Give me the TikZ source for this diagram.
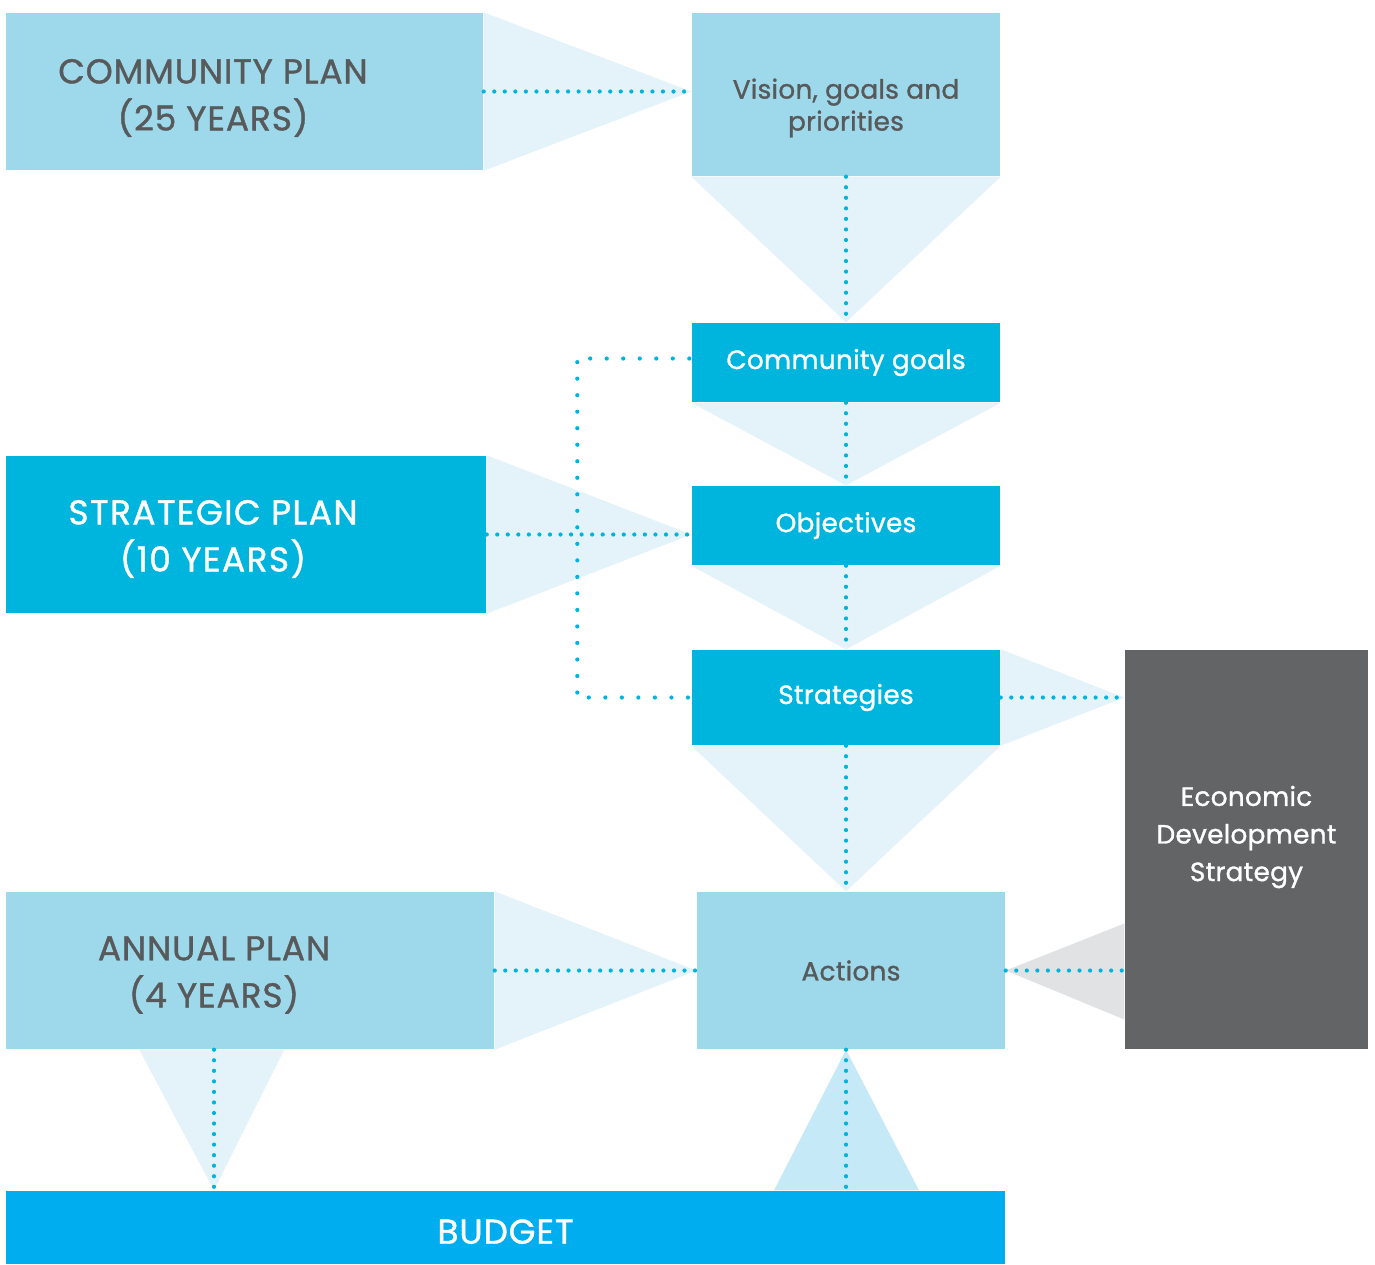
\documentclass[tikz,border=0pt]{standalone}
\usepackage{fontspec}
\setmainfont{Poppins}[FakeBold=1.1]
\usetikzlibrary{calc}
\definecolor{planblue}{HTML}{9DD9EA}
\definecolor{stepblue}{HTML}{00B5DD}
\definecolor{budgetblue}{HTML}{00AEEF}
\definecolor{palefunnel}{HTML}{E3F3F9}
\definecolor{budgetfunnel}{HTML}{C6E9F8}
\definecolor{greyfunnel}{HTML}{E1E2E4}
\definecolor{edsgrey}{HTML}{636466}
\definecolor{textgrey}{HTML}{58595B}
\definecolor{dotblue}{HTML}{00B5DD}
\begin{document}
\begin{tikzpicture}[
  box/.style={rectangle, inner sep=0pt, align=center},
  lightbox/.style={box, fill=planblue, text=textgrey},
  darkbox/.style={box, fill=stepblue, text=white},
  bigtext/.style={align=center, font=\addfontfeatures{LetterSpace=2.5}\fontsize{9.8}{13.4}\selectfont},
  smalltext/.style={align=center, font=\addfontfeatures{LetterSpace=1}\fontsize{7.5}{10.7}\selectfont},
  dotline/.style={draw=dotblue, line width=1.2pt, line cap=round, dash pattern=on 0pt off 3pt},
  widedotline/.style={dotline, dash pattern=on 0pt off 4.7pt},
  funnel/.style={fill=palefunnel}
]
\useasboundingbox (0,0) rectangle (13.75,-12.64);

\node[lightbox, minimum width=4.77cm, minimum height=1.57cm] (community) at (2.445,-0.915) {};
\node[bigtext, text=textgrey] (communitytext) at (2.13,-0.98) {COMMUNITY PLAN\\(25 YEARS)};
\node[lightbox, minimum width=3.08cm, minimum height=1.63cm] (vision) at (8.46,-0.945) {};
\node[smalltext, text=textgrey, font=\addfontfeatures{LetterSpace=1}\fontsize{7.5}{9.1}\selectfont] (visiontext) at (8.46,-1.08) {Vision, goals and\\priorities};
\node[darkbox, smalltext, minimum width=3.08cm, minimum height=0.79cm] (goals) at (8.46,-3.625) {Community goals};
\node[darkbox, minimum width=4.80cm, minimum height=1.57cm] (strategic) at (2.46,-5.345) {};
\node[bigtext, text=white, font=\addfontfeatures{LetterSpace=4}\fontsize{9.8}{13.4}\selectfont] (strategictext) at (2.13,-5.39) {STRATEGIC PLAN\\(10 YEARS)};
\node[darkbox, smalltext, minimum width=3.08cm, minimum height=0.79cm] (objectives) at (8.46,-5.255) {Objectives};
\node[darkbox, smalltext, minimum width=3.08cm, minimum height=0.95cm] (strategies) at (8.46,-6.975) {Strategies};
\node[box, fill=edsgrey, minimum width=2.43cm, minimum height=3.99cm] (eds) at (12.465,-8.495) {};
\node[smalltext, text=white] (edstext) at (12.465,-8.37) {Economic\\Development\\Strategy};
\node[lightbox, minimum width=4.88cm, minimum height=1.57cm] (annual) at (2.50,-9.705) {};
\node[bigtext, text=textgrey] (annualtext) at (2.14,-9.75) {ANNUAL PLAN\\(4 YEARS)};
\node[lightbox, smalltext, minimum width=3.08cm, minimum height=1.57cm] (actions) at (8.51,-9.705) {Actions};
\node[box, bigtext, fill=budgetblue, text=white, minimum width=9.99cm, minimum height=0.73cm, text height=9.2pt, text depth=0pt] (budget) at (5.055,-12.275) {BUDGET};

\fill[funnel] (community.north east) -- (community.south east) -- (vision.west |- community.east) -- cycle;
\fill[funnel] (vision.south west) -- (vision.south east) -- (goals.north) -- cycle;
\fill[funnel] (goals.south west) -- (goals.south east) -- (objectives.north) -- cycle;
\fill[funnel] (strategic.north east) -- (strategic.south east) -- (objectives.west |- strategic.east) -- cycle;
\fill[funnel] (objectives.south west) -- (objectives.south east) -- (strategies.north) -- cycle;
\fill[funnel] (strategies.north east) -- (strategies.south east) -- (eds.west |- strategies.east) -- cycle;
\fill[funnel] (strategies.south west) -- (strategies.south east) -- (actions.north -| vision.south) -- cycle;
\fill[funnel] (annual.north east) -- (annual.south east) -- (actions.west) -- cycle;
\fill[greyfunnel] ($(eds.west |- actions.east)+(0,0.47)$) -- ($(eds.west |- actions.east)+(0,-0.49)$) -- (actions.east) -- cycle;
\fill[funnel] ($(annual.south west)+(1.34,0)$) -- ($(annual.south west)+(2.79,0)$) -- (annualtext |- budget.north) -- cycle;
\fill[budgetfunnel] ($(budget.north -| vision.south)+(-0.72,0)$) -- ($(budget.north -| vision.south)+(0.73,0)$) -- (vision.south |- actions.south) -- cycle;

\draw[dotline] (community.east) -- (vision.west |- community.east);
\draw[dotline] (vision.south) -- (goals.north);
\draw[dotline] (goals.south) -- (objectives.north);
\draw[dotline] (strategic.east) -- (objectives.west |- strategic.east);
\draw[dotline] (objectives.south) -- (strategies.north);
\draw[widedotline] ($(goals.west)+(-0.02,0.04)$) -- ++(-1.12,0) |- ($(strategies.west)+(-0.02,0)$);
\draw[dotline] (strategies.east) -- (eds.west |- strategies.east);
\draw[dotline] (strategies.south -| vision.south) -- (actions.north -| vision.south);
\draw[dotline] (annual.east) -- (actions.west);
\draw[dotline] (actions.east) -- (eds.west |- actions.east);
\draw[dotline] (annualtext |- annual.south) -- (annualtext |- budget.north);
\draw[dotline] (vision.south |- actions.south) -- (vision.south |- budget.north);
\end{tikzpicture}
\end{document}
